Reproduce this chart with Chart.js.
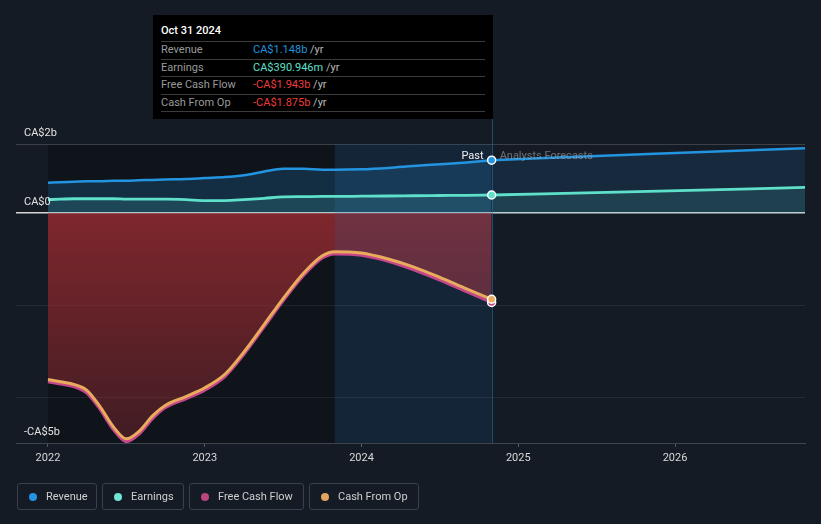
<!DOCTYPE html>
<html>
<head>
<meta charset="utf-8">
<title>Revenue, Earnings and Cash Flow</title>
<script src="https://cdn.jsdelivr.net/npm/chart.js@4.4.1/dist/chart.umd.min.js"></script>
<style>
  html, body { margin: 0; padding: 0; background: #151b25; }
  body { font-family: Roboto, "Noto Sans", Arial, sans-serif; width: 821px; height: 524px; overflow: hidden; position: relative; }
  #wrap { position: absolute; left: 0; top: 0; width: 821px; height: 524px; }
  #tip { position: absolute; left: 153px; top: 15px; width: 340px; height: 104px; background: #000; box-sizing: border-box; padding: 0 8px; }
  #tip .title { line-height: 31px; color: #fff; font-size: 11px; font-weight: 500; border-bottom: 1px solid #3b3b3b; box-sizing: border-box; height: 27px; }
  #tip .row { height: 17.5px; line-height: 15px; font-size: 11px; border-bottom: 1px solid #3b3b3b; box-sizing: border-box; display: flex; }
  #tip .row .lab { width: 92px; color: #9a9a9a; }
  #tip .row .yr { color: #bbb; }
  #legend { position: absolute; left: 17px; top: 483px; display: flex; }
  #legend .item { height: 27px; box-sizing: border-box; border: 1px solid #3a404b; border-radius: 3px; margin-right: 5px; display: flex; align-items: center; padding-left: 11px; font-size: 11px; color: #cfcfcf; white-space: nowrap; }
  #legend .dot { width: 8px; height: 8px; border-radius: 50%; margin-right: 9px; flex: none; }
</style>
</head>
<body>
<div id="wrap"><canvas id="chart" width="821" height="524"></canvas></div>
<div id="tip"></div>
<div id="legend"></div>
<script>
// dates as decimal years
const pastDates = [2022.00, 2022.08, 2022.17, 2022.25, 2022.33, 2022.42, 2022.50, 2022.58, 2022.67, 2022.75, 2022.88,
  2023.00, 2023.13, 2023.25, 2023.38, 2023.50, 2023.63, 2023.75, 2023.83, 2024.00, 2024.17, 2024.33, 2024.50, 2024.67, 2024.83];
const forecastDates = [2024.83, 2025.83, 2026.83];

// values in CA$ billions
const revenue = [0.66, 0.67, 0.68, 0.69, 0.69, 0.70, 0.70, 0.71, 0.72, 0.73, 0.74,
  0.76, 0.78, 0.82, 0.90, 0.96, 0.96, 0.94, 0.94, 0.95, 0.98, 1.02, 1.06, 1.10, 1.148];
const earnings = [0.29, 0.30, 0.31, 0.31, 0.31, 0.31, 0.30, 0.30, 0.30, 0.30, 0.29,
  0.27, 0.27, 0.29, 0.32, 0.35, 0.355, 0.36, 0.36, 0.365, 0.37, 0.375, 0.38, 0.385, 0.391];
const cashFromOp = [-3.62, -3.67, -3.73, -3.86, -4.20, -4.66, -4.91, -4.75, -4.40, -4.18, -3.99,
  -3.80, -3.50, -3.02, -2.42, -1.86, -1.31, -0.93, -0.84, -0.87, -1.00, -1.17, -1.40, -1.65, -1.875];
const freeCashFlow = [-3.67, -3.72, -3.78, -3.92, -4.26, -4.72, -4.97, -4.81, -4.46, -4.23, -4.04,
  -3.85, -3.55, -3.07, -2.47, -1.91, -1.36, -0.98, -0.89, -0.92, -1.05, -1.23, -1.46, -1.71, -1.943];
const revenueForecast = [1.148, 1.28, 1.41];
const earningsForecast = [0.391, 0.47, 0.555];

const xTicks = [2022, 2023, 2024, 2025, 2026];
const xTickLabels = ['2022', '2023', '2024', '2025', '2026'];
const yLabelValues = [1.5, 0, -5];
const yLabels = ['CA$2b', 'CA$0', '-CA$5b'];
const yGridValues = [-5, -4, -2, 0, 1.5];

const pastStart = 2022.00;
const highlightStart = 2023.83;
const pastEnd = 2024.83;

const colors = {
  revenue: '#2394df',
  earnings: '#5ee0cb',
  fcf: '#c5468b',
  cfo: '#e9ab5c'
};

function pts(dates, vals) { return dates.map((d, i) => ({ x: d, y: vals[i] })); }
function lastOnly(n, r) { return ctx => ctx.dataIndex === n - 1 ? r : 0; }

const last = pastDates.length;

// tooltip (real text)
const tipRows = [
  ['Revenue', 'CA$1.148b', colors.revenue],
  ['Earnings', 'CA$390.946m', colors.earnings],
  ['Free Cash Flow', '-CA$1.943b', '#ef3b3b'],
  ['Cash From Op', '-CA$1.875b', '#ef3b3b']
];
const tip = document.getElementById('tip');
let tipHtml = '<div class="title">Oct 31 2024</div>';
tipRows.forEach(r => {
  tipHtml += `<div class="row"><span class="lab">${r[0]}</span><span style="color:${r[2]}">${r[1]}</span>&nbsp;<span class="yr">/yr</span></div>`;
});
tip.innerHTML = tipHtml;

// legend
const legendItems = [['Revenue', '#2394df', 80], ['Earnings', '#6ee6d6', 82], ['Free Cash Flow', '#b8467f', 115], ['Cash From Op', '#e2a660', 110]];
document.getElementById('legend').innerHTML = legendItems.map(l =>
  `<div class="item" style="width:${l[2]}px"><span class="dot" style="background:${l[1]}"></span>${l[0]}</div>`).join('');

const bandsPlugin = {
  id: 'bands',
  beforeDraw(chart) {
    const { ctx, chartArea, scales } = chart;
    const x0 = scales.x.getPixelForValue(pastStart);
    const x1 = scales.x.getPixelForValue(highlightStart);
    ctx.save();
    ctx.fillStyle = 'rgba(0,0,0,0.25)';
    ctx.fillRect(x0, chartArea.top, x1 - x0, chartArea.bottom - chartArea.top);
    ctx.restore();
  },
  beforeDatasetsDraw(chart) {
    const { ctx, chartArea, scales } = chart;
    const x1 = scales.x.getPixelForValue(highlightStart);
    const x2 = scales.x.getPixelForValue(pastEnd);
    ctx.save();
    ctx.fillStyle = 'rgba(30,100,170,0.15)';
    ctx.fillRect(x1, chartArea.top, x2 - x1, chartArea.bottom - chartArea.top);
    ctx.strokeStyle = 'rgba(40,110,170,0.6)';
    ctx.lineWidth = 1;
    ctx.beginPath();
    ctx.moveTo(Math.round(x2) + 0.5, 119);
    ctx.lineTo(Math.round(x2) + 0.5, chartArea.bottom);
    ctx.stroke();
    ctx.restore();
  },
  afterDraw(chart) {
    const { ctx, scales } = chart;
    ctx.save();
    ctx.font = '11px Roboto, Arial, sans-serif';
    ctx.fillStyle = '#e2e2e2';
    ctx.textBaseline = 'bottom';
    ctx.textAlign = 'left';
    yLabelValues.forEach((v, i) => {
      ctx.fillText(yLabels[i], 24, scales.y.getPixelForValue(v) - 5);
    });
    const xp = scales.x.getPixelForValue(pastEnd);
    const yp = scales.y.getPixelForValue(revenue[last - 1]);
    ctx.textBaseline = 'middle';
    ctx.textAlign = 'right';
    ctx.fillStyle = '#f0f0f0';
    ctx.fillText('Past', xp - 8, yp - 4);
    ctx.textAlign = 'left';
    ctx.fillStyle = 'rgba(170,170,170,0.6)';
    ctx.fillText('Analysts Forecasts', xp + 8, yp - 4);
    ctx.restore();
  }
};

const ctx = document.getElementById('chart');
new Chart(ctx, {
  type: 'line',
  data: {
    datasets: [
      {
        label: 'Revenue', data: pts(pastDates, revenue), borderColor: colors.revenue, borderWidth: 2.5,
        fill: 'origin', backgroundColor: 'rgba(35,148,223,0.2)', order: 4,
        pointRadius: lastOnly(last, 4), pointBackgroundColor: colors.revenue, pointBorderColor: '#fff', pointBorderWidth: 1.5
      },
      {
        label: 'Revenue forecast', data: pts(forecastDates, revenueForecast), borderColor: colors.revenue, borderWidth: 2.5,
        fill: 'origin', backgroundColor: 'rgba(35,148,223,0.13)', order: 5, pointRadius: 0
      },
      {
        label: 'Earnings', data: pts(pastDates, earnings), borderColor: colors.earnings, borderWidth: 2.8,
        fill: 'origin', backgroundColor: 'rgba(94,224,204,0.15)', order: 2,
        pointRadius: lastOnly(last, 4), pointBackgroundColor: colors.earnings, pointBorderColor: '#fff', pointBorderWidth: 1.5
      },
      {
        label: 'Earnings forecast', data: pts(forecastDates, earningsForecast), borderColor: colors.earnings, borderWidth: 2.8,
        fill: 'origin', backgroundColor: 'rgba(94,224,204,0.13)', order: 3, pointRadius: 0
      },
      {
        label: 'Free Cash Flow', data: pts(pastDates, freeCashFlow), borderColor: colors.fcf, borderWidth: 3,
        fill: 'origin', order: 1,
        backgroundColor: c => {
          const a = c.chart.chartArea;
          if (!a) return 'rgba(190,50,55,0.5)';
          const zero = c.chart.scales.y.getPixelForValue(0);
          const g = c.chart.ctx.createLinearGradient(0, zero, 0, a.bottom);
          g.addColorStop(0, 'rgba(190,50,55,0.64)');
          g.addColorStop(1, 'rgba(190,50,55,0.28)');
          return g;
        },
        pointRadius: lastOnly(last, 4), pointBackgroundColor: colors.fcf, pointBorderColor: '#fff', pointBorderWidth: 1.5
      },
      {
        label: 'Cash From Op', data: pts(pastDates, cashFromOp), borderColor: colors.cfo, borderWidth: 3,
        fill: false, order: 0,
        pointRadius: lastOnly(last, 4), pointBackgroundColor: colors.cfo, pointBorderColor: '#fff', pointBorderWidth: 1.5
      }
    ]
  },
  options: {
    responsive: false,
    animation: false,
    layout: { padding: { left: 16, right: 16, top: 144, bottom: 49 } },
    plugins: {
      legend: { display: false },
      tooltip: { enabled: false },
      filler: { drawTime: 'beforeDatasetsDraw' }
    },
    elements: { line: { cubicInterpolationMode: 'monotone' } },
    scales: {
      x: {
        type: 'linear',
        min: 2021.796,
        max: 2026.829,
        afterBuildTicks: s => { s.ticks = xTicks.map(v => ({ value: v })); },
        afterFit: s => { s.height = 32; },
        ticks: {
          color: '#d8d8d8',
          font: { size: 11, family: 'Roboto, Arial, sans-serif' },
          padding: 5,
          callback: (v) => xTickLabels[xTicks.indexOf(v)]
        },
        grid: { drawOnChartArea: false, drawTicks: true, tickLength: 4, color: '#555b66' },
        border: { display: true, color: '#3f4550', width: 1 }
      },
      y: {
        min: -5,
        max: 1.5,
        afterBuildTicks: s => { s.ticks = yGridValues.map(v => ({ value: v })); },
        afterFit: s => { s.width = 0; },
        ticks: { display: false },
        grid: {
          drawTicks: false,
          color: c => c.tick.value === 0 ? '#d6d6d6' : (c.tick.value === 1.5 ? '#3a3f48' : 'rgba(255,255,255,0.07)'),
          lineWidth: c => c.tick.value === 0 ? 1.5 : 1
        },
        border: { display: false }
      }
    }
  },
  plugins: [bandsPlugin]
});
</script>
</body>
</html>
